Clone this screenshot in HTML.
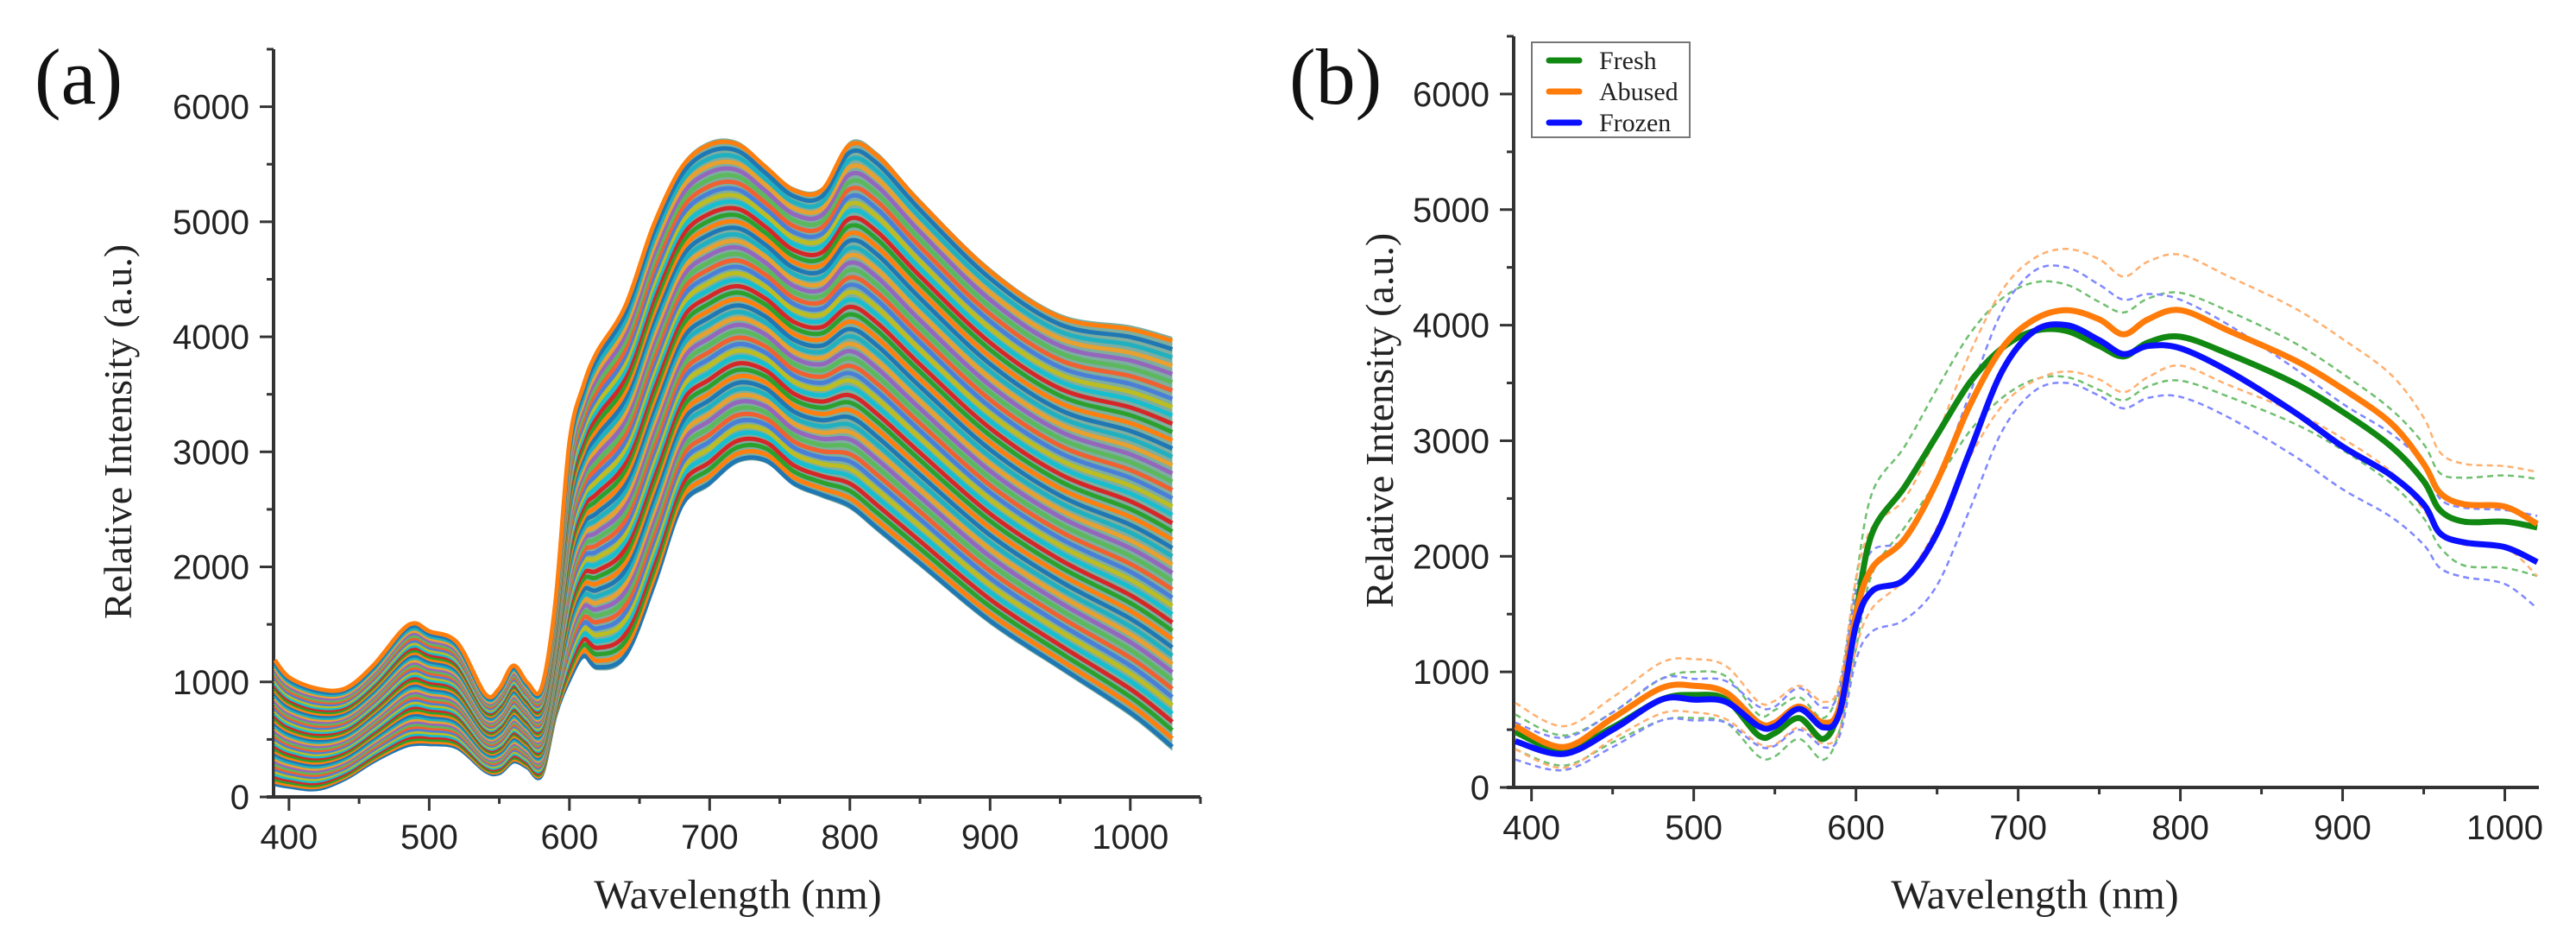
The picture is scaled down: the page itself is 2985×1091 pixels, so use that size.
<!DOCTYPE html>
<html><head><meta charset="utf-8"><style>
html,body{margin:0;padding:0;background:#fff;}
svg{display:block;}
</style></head><body>
<svg id="fig" width="2985" height="1091" viewBox="0 0 2985 1091" xmlns="http://www.w3.org/2000/svg">
<rect width="2985" height="1091" fill="#fff"/>
<g id="pa"></g>
<g id="pb"></g>
</svg>
<script>
// ---- Panel (a) data: envelope of spectra ----
const aWl = [390,400,420,440,460,480,490,500,520,540,550,560,570,580,590,600,610,620,640,660,680,700,720,740,760,780,800,820,850,900,950,1000,1030];
const aUpper = [1200,1050,950,950,1150,1450,1520,1450,1350,900,950,1150,1000,950,1700,3100,3600,3900,4300,5000,5500,5700,5700,5500,5300,5300,5700,5600,5200,4600,4200,4100,4000];
const aLower = [100,80,60,150,300,420,450,450,420,220,200,300,250,180,700,1000,1200,1100,1200,1800,2500,2700,2900,2900,2700,2600,2500,2300,2000,1500,1100,700,400];
const aFractions = [0.01,0.03,0.05,0.07,0.09,0.11,0.13,0.15,0.17,0.19,0.21,0.23,0.25,0.27,0.29,0.31,0.33,0.35,0.37,0.39,0.41,0.43,0.45,0.47,0.49,0.51,0.53,0.55,0.57,0.59,0.61,0.63,0.65,0.67,0.69,0.71,0.73,0.75,0.77,0.79,0.81,0.83,0.85,0.87,0.89,0.91,0.93,0.95,0.97,0.99];
// ---- Panel (b) data ----
const bWl = [390,420,450,480,500,520,540,550,565,580,590,600,610,630,650,670,690,710,730,750,765,780,800,830,870,900,930,950,960,975,1000,1020];
const freshMean = [480,320,520,760,800,760,450,470,600,420,700,1500,2200,2600,3050,3500,3800,3950,3950,3820,3730,3850,3900,3750,3500,3250,2950,2650,2400,2300,2300,2250];
const abusedMean = [530,350,600,860,880,820,560,560,700,560,700,1500,1900,2150,2650,3300,3800,4050,4130,4050,3920,4050,4130,3950,3700,3450,3150,2800,2550,2450,2430,2280];
const frozenMean = [400,290,500,760,760,740,530,530,680,520,650,1400,1700,1800,2200,2900,3600,3950,4000,3870,3750,3820,3800,3600,3250,2950,2700,2450,2200,2120,2080,1950];
const freshStd = [150,130,130,180,200,200,180,200,180,180,200,300,350,350,400,420,430,420,400,380,380,380,380,370,350,330,320,320,320,380,400,420];
const abusedStd = [200,180,180,220,230,230,180,190,180,180,200,300,350,350,400,450,500,530,530,520,500,500,480,470,450,430,420,400,350,350,350,450];
const frozenStd = [160,140,150,180,180,180,170,170,180,170,200,300,350,350,450,500,520,520,500,480,470,450,420,400,380,370,360,350,300,300,320,400];
const xTicks = [400,500,600,700,800,900,1000];
const yTicks = [0,1000,2000,3000,4000,5000,6000];
const legendLabels = ["Fresh","Abused","Frozen"];

const NS="http://www.w3.org/2000/svg";
function mk(parent,tag,attrs,text){const e=document.createElementNS(NS,tag);for(const k in attrs)e.setAttribute(k,attrs[k]);if(text!==undefined)e.textContent=text;parent.appendChild(e);return e;}

function axes(g,cfg){
  const X=v=>cfg.x0+(v-cfg.xmin)/(cfg.xmax-cfg.xmin)*(cfg.x1-cfg.x0);
  const Y=v=>cfg.y0-(v-cfg.ymin)/(cfg.ymax-cfg.ymin)*(cfg.y0-cfg.y1);
  const ax=mk(g,'g',{});
  
  
  const xl=mk(ax,'line',{x1:cfg.x0-8,y1:cfg.y0,x2:cfg.x1,y2:cfg.y0,stroke:'#333','stroke-width':4});
  
  
  const yl=mk(ax,'line',{x1:cfg.x0,y1:cfg.y0,x2:cfg.x0,y2:cfg.y1,stroke:'#333','stroke-width':4});
  
  
  mk(ax,'line',{x1:cfg.x0-8,y1:cfg.y1,x2:cfg.x0,y2:cfg.y1,stroke:'#333','stroke-width':3});
  for(let v=450;v<cfg.xmax;v+=100){mk(ax,'line',{x1:X(v),y1:cfg.y0,x2:X(v),y2:cfg.y0+8,stroke:'#333','stroke-width':3});}
  if(cfg.xmax>=1050) mk(ax,'line',{x1:X(1050),y1:cfg.y0,x2:X(1050),y2:cfg.y0+8,stroke:'#333','stroke-width':3});
  xTicks.forEach(v=>{
    mk(ax,'line',{x1:X(v),y1:cfg.y0,x2:X(v),y2:cfg.y0+16,stroke:'#333','stroke-width':3});
    const t=mk(ax,'text',{x:X(v),y:cfg.y0+60,'text-anchor':'middle','font-family':'Liberation Sans, sans-serif','font-size':40,fill:'#222'},String(v));
    
    
  });
  for(let v=500;v<6500;v+=1000){mk(ax,'line',{x1:cfg.x0-8,y1:Y(v),x2:cfg.x0,y2:Y(v),stroke:'#333','stroke-width':3});}
  yTicks.forEach(v=>{
    mk(ax,'line',{x1:cfg.x0-16,y1:Y(v),x2:cfg.x0,y2:Y(v),stroke:'#333','stroke-width':3});
    const t=mk(ax,'text',{x:cfg.x0-28,y:Y(v)+14,'text-anchor':'end','font-family':'Liberation Sans, sans-serif','font-size':40,fill:'#222'},String(v));
    
    
  });
  const xt=mk(ax,'text',{x:cfg.xtx,y:1052,'text-anchor':'middle','font-family':'Liberation Serif, serif','font-size':48,fill:'#222'},'Wavelength (nm)');
  
  
  const yt=mk(ax,'text',{x:0,y:0,transform:`translate(${cfg.ytx},${(cfg.y0+cfg.y1)/2+10}) rotate(-90)`,'text-anchor':'middle','font-family':'Liberation Serif, serif','font-size':46,fill:'#222'},'Relative Intensity (a.u.)');
  
  
  return {X,Y};
}
// smooth path (Catmull-Rom to Bezier)
function path(X,Y,xs,ys){
  const p=xs.map((x,i)=>[X(x),Y(ys[i])]);
  let d='M'+p[0][0].toFixed(1)+','+p[0][1].toFixed(1);
  for(let i=0;i<p.length-1;i++){
    const p0=p[Math.max(0,i-1)],p1=p[i],p2=p[i+1],p3=p[Math.min(p.length-1,i+2)];
    const c1=[p1[0]+(p2[0]-p0[0])/6,p1[1]+(p2[1]-p0[1])/6];
    const c2=[p2[0]-(p3[0]-p1[0])/6,p2[1]-(p3[1]-p1[1])/6];
    d+=` C${c1[0].toFixed(1)},${c1[1].toFixed(1)} ${c2[0].toFixed(1)},${c2[1].toFixed(1)} ${p2[0].toFixed(1)},${p2[1].toFixed(1)}`;
  }
  return d;
}

// Panel a
const ga=document.getElementById('pa');
const A=axes(ga,{x0:317,x1:1391,y0:923,y1:57,xmin:389,xmax:1050,ymin:0,ymax:6500,xtx:855,ytx:152});
const pal=['#1f77b4','#ff7f0e','#2ca02c','#d62728','#17becf','#bcbd22','#4a7fd8','#f06030','#5cb85c','#9467bd','#e8a030','#20b0c0'];
const la=mk(ga,'text',{x:40,y:120,'font-family':'Liberation Serif, serif','font-size':92,fill:'#111'},'(a)');


const rev=path(A.X,A.Y,aWl.slice().reverse(),aLower.slice().reverse());
const band=mk(ga,'path',{d:path(A.X,A.Y,aWl,aUpper)+' L'+rev.slice(1)+' Z',fill:'#5c9a88',opacity:0.8});


aFractions.forEach((f,k)=>{
  const ys=aUpper.map((u,i)=>aLower[i]+f*(u-aLower[i]));
  const p=mk(ga,'path',{d:path(A.X,A.Y,aWl,ys),fill:'none',stroke:pal[k%pal.length],'stroke-width':5});
  
  
});

// Panel b
const gb=document.getElementById('pb');
const B=axes(gb,{x0:1754,x1:2942,y0:912,y1:42,xmin:389,xmax:1021,ymin:0,ymax:6500,xtx:2358,ytx:1614});
const lb=mk(gb,'text',{x:1494,y:120,'font-family':'Liberation Serif, serif','font-size':92,fill:'#111'},'(b)');


const series=[
 {name:'fresh',mean:freshMean,std:freshStd,c:'#118811',lc:'#70c070'},
 {name:'abused',mean:abusedMean,std:abusedStd,c:'#ff7b0a',lc:'#ffb070'},
 {name:'frozen',mean:frozenMean,std:frozenStd,c:'#0a10ff',lc:'#8088ff'}];
series.forEach(s=>{
  const up=s.mean.map((m,i)=>m+s.std[i]);
  const lo=s.mean.map((m,i)=>m-s.std[i]);
  [up,lo].forEach((arr,j)=>{
    const p=mk(gb,'path',{d:path(B.X,B.Y,bWl,arr),fill:'none',stroke:s.lc,'stroke-width':2.5,'stroke-dasharray':'7,5'});
    
    
  });
});
series.forEach(s=>{
  const p=mk(gb,'path',{d:path(B.X,B.Y,bWl,s.mean),fill:'none',stroke:s.c,'stroke-width':7,'stroke-linejoin':'round'});
  
  
});
const leg=mk(gb,'g',{});


mk(leg,'rect',{x:1775,y:49,width:183,height:110,fill:'#fff',stroke:'#777','stroke-width':2});
legendLabels.forEach((lab,i)=>{
  const y=70+i*36;
  const e=mk(leg,'g',{});
  
  
  mk(e,'line',{x1:1795,y1:y,x2:1830,y2:y,stroke:series[i].c,'stroke-width':7,'stroke-linecap':'round'});
  mk(e,'text',{x:1853,y:y+10,'font-family':'Liberation Serif, serif','font-size':30,fill:'#222'},lab);
});
</script>
</body></html>
